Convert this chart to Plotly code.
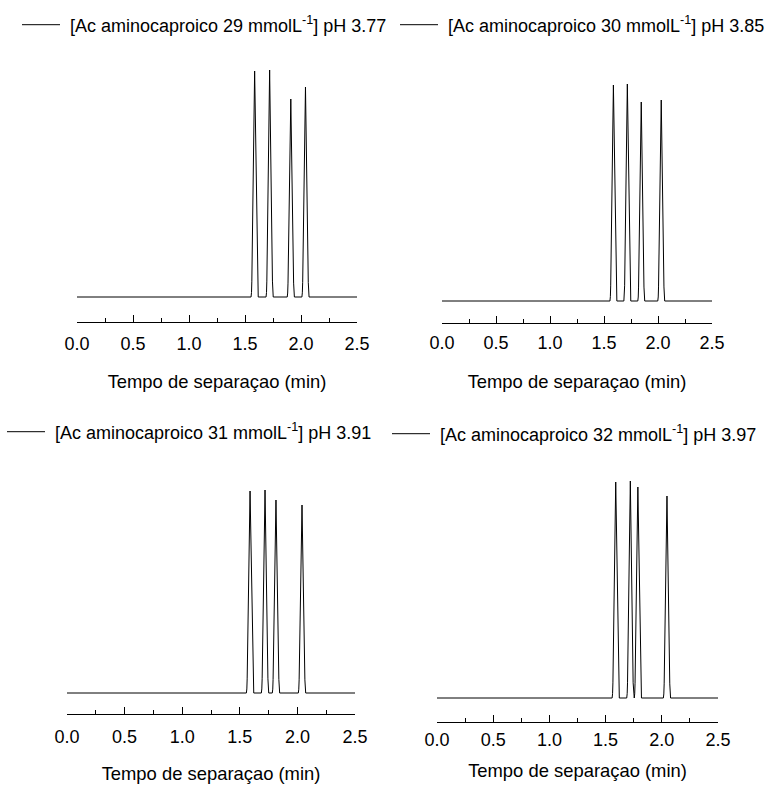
import plotly.graph_objects as go

# Eletroferogramas: tempos de migração (min) e alturas dos picos (u.a.)
rotulos = [
    "[Ac aminocaproico 29 mmolL<sup>-1</sup>] pH 3.77",
    "[Ac aminocaproico 30 mmolL<sup>-1</sup>] pH 3.85",
    "[Ac aminocaproico 31 mmolL<sup>-1</sup>] pH 3.91",
    "[Ac aminocaproico 32 mmolL<sup>-1</sup>] pH 3.97",
]
tempos_29 = [1.586, 1.720, 1.909, 2.040]
alturas_29 = [226, 227, 198, 210]
tempos_30 = [1.587, 1.716, 1.845, 2.030]
alturas_30 = [216, 217, 199, 201]
tempos_31 = [1.589, 1.719, 1.814, 2.040]
alturas_31 = [202, 203, 193, 188]
tempos_32 = [1.590, 1.720, 1.787, 2.046]
alturas_32 = [216, 217, 211, 202]

# forma de cada pico: deslocamento em relação ao ápice (min) e fração da altura
perfil_dx = [-0.032, -0.028, -0.025, 0.0, 0.025, 0.028, 0.032]
perfil_f = [0.0, 0.02, 0.07, 1.0, 0.07, 0.02, 0.0]

eixo_x_ticks = [0.0, 0.5, 1.0, 1.5, 2.0, 2.5]
tempo_inicio, tempo_fim = 0.0, 2.5

FONTE = "Liberation Sans, Arial, sans-serif"
W, H = 772, 792


def sinal(tempos, alturas):
    xs, ys = [tempo_inicio], [0.0]
    for t, h in zip(tempos, alturas):
        for dx, f in zip(perfil_dx, perfil_f):
            xs.append(t + dx)
            ys.append(h * f)
    xs.append(tempo_fim)
    ys.append(0.0)
    return xs, ys


series = [
    (tempos_29, alturas_29),
    (tempos_30, alturas_30),
    (tempos_31, alturas_31),
    (tempos_32, alturas_32),
]

# posição de cada painel em pixels: (esq, dir, topo, eixo); a linha de base fica acima do eixo
paineis = [
    dict(x0=77, x1=357, y0=60, y1=322, base=25, std=5, leg=(17, 25), tit=22),
    dict(x0=442, x1=712, y0=60, y1=323, base=22, std=3, leg=(395, 25), tit=23),
    dict(x0=67, x1=355, y0=470, y1=714, base=21, std=6, leg=(2, 432), tit=21),
    dict(x0=437, x1=718, y0=465, y1=722, base=24, std=1, leg=(387, 434), tit=15),
]

fig = go.Figure()
layout = dict(
    width=W, height=H,
    margin=dict(l=0, r=0, t=0, b=0, autoexpand=False),
    paper_bgcolor="white", plot_bgcolor="white",
    font=dict(family=FONTE, color="black"),
)

for i, ((tempos, alturas), p, nome) in enumerate(zip(series, paineis, rotulos)):
    n = i + 1
    sx = "" if n == 1 else str(n)
    xs, ys = sinal(tempos, alturas)
    fig.add_trace(go.Scatter(
        x=xs, y=ys, mode="lines", name="&nbsp;" + nome,
        line=dict(color="black", width=1),
        xaxis="x" + sx, yaxis="y" + sx,
        legend="legend" + sx, showlegend=True,
    ))
    altura_px = p["y1"] - p["y0"]
    layout["xaxis" + sx] = dict(
        domain=[p["x0"] / W, p["x1"] / W],
        anchor="y" + sx,
        range=[tempo_inicio, tempo_fim],
        tickvals=eixo_x_ticks,
        ticktext=[f"{v:.1f}" for v in eixo_x_ticks],
        ticks="inside", ticklen=7, tickwidth=1, tickcolor="black",
        minor=dict(ticks="inside", ticklen=4, dtick=0.25, tick0=0, tickcolor="black", showgrid=False),
        showline=True, linecolor="black", linewidth=1,
        showgrid=False, zeroline=False, automargin=False,
        tickfont=dict(size=18, family=FONTE),
        ticklabelstandoff=p["std"],
        title=dict(text="Tempo de separaçao (min)", font=dict(size=18.4, family=FONTE), standoff=p["tit"]),
    )
    layout["yaxis" + sx] = dict(
        domain=[1 - p["y1"] / H, 1 - p["y0"] / H],
        anchor="x" + sx,
        range=[-p["base"], altura_px - p["base"]],
        visible=False, automargin=False,
    )
    lx, ly = p["leg"]
    layout["legend" + sx] = dict(
        x=lx / W, y=1 - ly / H, xanchor="left", yanchor="middle",
        xref="paper", yref="paper",
        bgcolor="rgba(0,0,0,0)", borderwidth=0,
        font=dict(size=18, family=FONTE, color="black"),
        itemwidth=38,
    )

fig.update_layout(**layout)
fig.write_html("out.html")
